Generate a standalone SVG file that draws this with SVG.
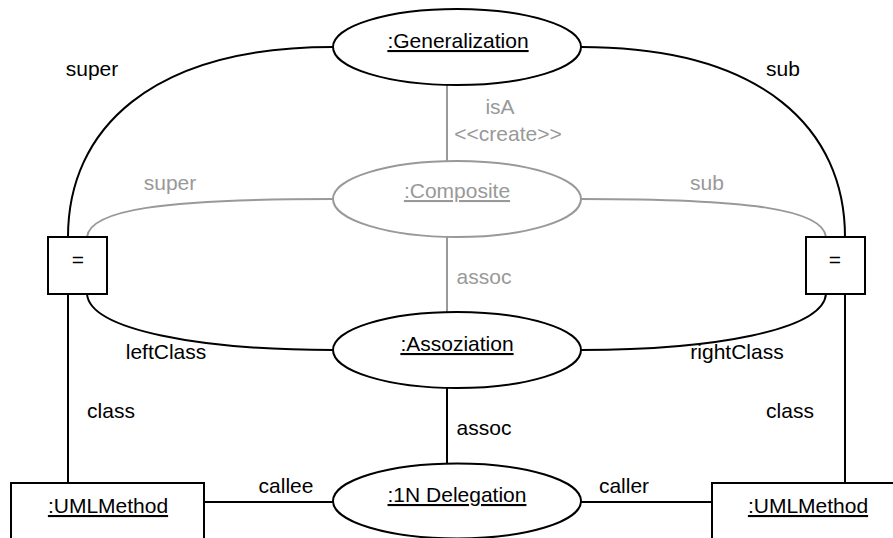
<svg xmlns="http://www.w3.org/2000/svg" width="893" height="538" viewBox="0 0 893 538">
  <style>
    text { font-family: "Liberation Sans", Arial, sans-serif; font-size: 21px; fill: #000; }
    .mid { text-anchor: middle; }
    .u { text-decoration: underline; }
    .gray { fill: #999; }
    .node { fill: #fff; stroke: #000; stroke-width: 2; }
    .node.faint { stroke: #999; }
    .link { fill: none; stroke: #000; stroke-width: 2; }
    .link.faint { stroke: #999; }
  </style>
  <rect width="893" height="538" fill="#fff"/>

  <g id="connectors">
    <!-- generalization to the equality checks -->
    <path class="link" d="M333 47 C150 47 68 130 68 237"/>
    <path class="link" d="M581 47 C764 47 845 130 845 237"/>
    <!-- composite (created) to the equality checks -->
    <path class="link faint" d="M333 199 C160 199 90 210 87 237"/>
    <path class="link faint" d="M581 199 C754 199 823 210 826 237"/>
    <!-- isA / assoc links through the composite -->
    <line class="link faint" x1="447" y1="85" x2="447" y2="161"/>
    <line class="link faint" x1="447" y1="237" x2="447" y2="313"/>
    <line class="link" x1="447" y1="388" x2="447" y2="464"/>
    <!-- association ends -->
    <path class="link" d="M87 294 C90 330 200 350 333 350"/>
    <path class="link" d="M826 294 C823 330 714 350 581 350"/>
    <!-- class links -->
    <line class="link" x1="68" y1="294" x2="68" y2="483"/>
    <line class="link" x1="845" y1="294" x2="845" y2="483"/>
    <!-- callee / caller -->
    <line class="link" x1="204" y1="502" x2="333" y2="502"/>
    <line class="link" x1="581" y1="502" x2="712" y2="502"/>

    <!-- role labels -->
    <text class="mid" x="92" y="76">super</text>
    <text class="mid" x="783" y="76">sub</text>
    <text class="mid gray" x="170" y="190">super</text>
    <text class="mid gray" x="707" y="190">sub</text>
    <text class="mid gray" x="500" y="114">isA</text>
    <text class="mid gray" x="508" y="141">&lt;&lt;create&gt;&gt;</text>
    <text class="mid gray" x="484" y="284">assoc</text>
    <text class="mid" x="166" y="359">leftClass</text>
    <text class="mid" x="737" y="359">rightClass</text>
    <text class="mid" x="111" y="418">class</text>
    <text class="mid" x="790" y="418">class</text>
    <text class="mid" x="484" y="435">assoc</text>
    <text class="mid" x="286" y="493">callee</text>
    <text class="mid" x="624" y="493">caller</text>
  </g>

  <g id="generalization">
    <ellipse class="node" cx="457" cy="47" rx="124" ry="38"/>
    <text class="mid u" x="458" y="48">:Generalization</text>
  </g>

  <g id="composite">
    <ellipse class="node faint" cx="457" cy="199" rx="124" ry="38"/>
    <text class="mid u gray" x="457" y="198">:Composite</text>
  </g>

  <g id="assoziation">
    <ellipse class="node" cx="457" cy="350" rx="124" ry="38"/>
    <text class="mid u" x="457" y="351">:Assoziation</text>
  </g>

  <g id="delegation">
    <ellipse class="node" cx="457" cy="501" rx="124" ry="37.5"/>
    <text class="mid u" x="457" y="502">:1N Delegation</text>
  </g>

  <g id="equal-left">
    <rect class="node" x="48" y="237" width="59" height="57"/>
    <text class="mid" x="78" y="267">=</text>
  </g>

  <g id="equal-right">
    <rect class="node" x="806" y="237" width="59" height="57"/>
    <text class="mid" x="835" y="267">=</text>
  </g>

  <g id="method-left">
    <rect class="node" x="11" y="483" width="193" height="70"/>
    <text class="mid u" x="108" y="513">:UMLMethod</text>
  </g>

  <g id="method-right">
    <rect class="node" x="712" y="483" width="193" height="70"/>
    <text class="mid u" x="808" y="513">:UMLMethod</text>
  </g>
</svg>
